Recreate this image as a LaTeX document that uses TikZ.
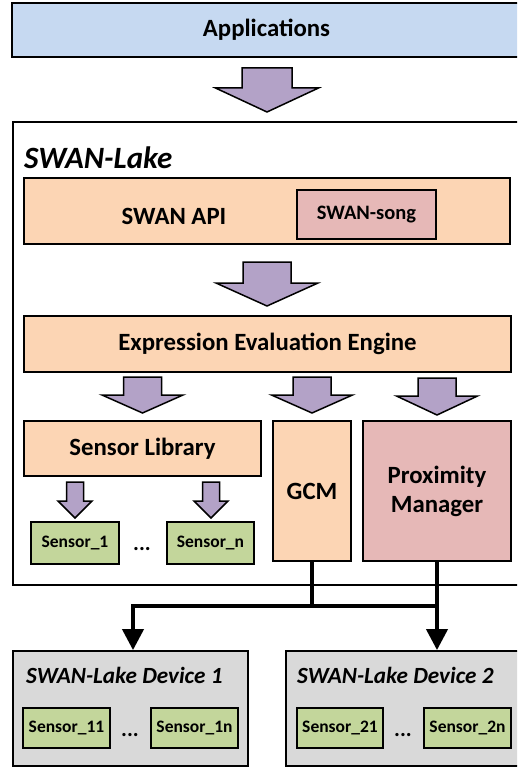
\documentclass[tikz,border=0pt]{standalone}
\usepackage{fontspec}
\setmainfont{Carlito}
\usetikzlibrary{arrows.meta}
\definecolor{appblue}{HTML}{C6D9F1}
\definecolor{lorange}{HTML}{FCD5B4}
\definecolor{lpink}{HTML}{E6B8B7}
\definecolor{lgreen}{HTML}{C3D69B}
\definecolor{lpurple}{HTML}{B3A2C7}
\definecolor{lgray}{HTML}{D9D9D9}
\newcommand\BlockArrow[6]{%
  \filldraw[barrow] (#1-#5,#2) -- (#1+#5,#2) -- (#1+#5,#3) -- (#1+#6,#3) -- (#1,#4) -- (#1-#6,#3) -- (#1-#5,#3) -- cycle;}
\begin{document}
\begin{tikzpicture}[x=1pt,y=-1pt,
  box/.style={draw=black, line width=1.8pt, rectangle, inner sep=0pt, font=\bfseries\fontsize{24.8}{29}\selectfont, align=center},
  sbox/.style={draw=black, line width=1.8pt, rectangle, inner sep=0pt, fill=lgreen, font=\bfseries\fontsize{17.5}{20}\selectfont, text height=12pt, text depth=3pt},
  ttl/.style={inner sep=0pt, anchor=west, font=\bfseries\itshape},
  dots/.style={inner sep=0pt, font=\bfseries\fontsize{22}{24}\selectfont},
  txt/.style={inner sep=0pt, font=\bfseries\fontsize{24.8}{29}\selectfont},
  barrow/.style={fill=lpurple, draw=black, line width=1.5pt, line join=miter},
  wire/.style={draw=black, line width=4pt, line join=miter},
  tip/.style={-{Triangle[width=21pt,length=21pt]}}
]
\useasboundingbox (0,0) rectangle (517,767);
\clip (0,0) rectangle (517,767);
\fill[white] (0,0) rectangle (517,767);

% Applications
\node[box, fill=appblue, line width=2pt, minimum width=509pt, minimum height=54pt] (apps) at (266.5,30) {Applications};

% SWAN-Lake container
\node[draw=black, line width=1.5pt, rectangle, inner sep=0pt, minimum width=508pt, minimum height=463pt] (lake) at (267,353.5) {};
\node[ttl, font=\bfseries\itshape\fontsize{31}{36}\selectfont] (laket) at (24,158) {SWAN-Lake};

% SWAN API
\node[box, fill=lorange, minimum width=486pt, minimum height=66pt] (api) at (267,211) {};
\node[txt] (apit) at (174,216) {SWAN API};
\node[box, fill=lpink, minimum width=139pt, minimum height=49pt, font=\bfseries\fontsize{20.5}{24}\selectfont] (song) at (366.5,214.5) {\raisebox{-1pt}{SWAN-song}};

% Expression Evaluation Engine
\node[box, fill=lorange, minimum width=487pt, minimum height=56pt] (eee) at (267.5,344) {Expression Evaluation Engine};

% Lower row
\node[box, fill=lorange, minimum width=237pt, minimum height=55pt] (slib) at (142.5,448.5) {Sensor Library};
\node[box, fill=lorange, minimum width=78pt, minimum height=140pt] (gcm) at (312,491) {GCM};
\node[box, fill=lpink, minimum width=148pt, minimum height=140pt] (prox) at (437,491) {Proximity\\Manager};

% Sensors
\node[sbox, minimum width=88pt, minimum height=42pt] (s1) at (75,543) {Sensor\_1};
\node[sbox, minimum width=87pt, minimum height=42pt] (sn) at (210.5,543) {Sensor\_n};
\node[dots] (d0) at (142,549) {...};

% Block arrows
\BlockArrow{267}{68}{88}{112}{25}{51.5}
\BlockArrow{267}{262}{283}{306}{24}{51}
\BlockArrow{142.5}{377}{395}{413}{19}{40.5}
\BlockArrow{312}{377}{395}{413}{19}{40.5}
\BlockArrow{437}{378}{396}{415}{19}{40.5}
\BlockArrow{75}{482}{501}{518}{8.5}{17}
\BlockArrow{211}{482}{501}{518}{8.5}{17}

% Devices
\node[draw=black, line width=1.8pt, fill=lgray, rectangle, inner sep=0pt, minimum width=235pt, minimum height=115pt] (dev1) at (130.5,708.5) {};
\node[draw=black, line width=1.8pt, fill=lgray, rectangle, inner sep=0pt, minimum width=235pt, minimum height=115pt] (dev2) at (403.5,708.5) {};
\node[ttl, font=\bfseries\itshape\fontsize{23.2}{27}\selectfont] (dev1t) at (26,675) {SWAN-Lake Device 1};
\node[ttl, font=\bfseries\itshape\fontsize{23.2}{27}\selectfont] (dev2t) at (297,675) {SWAN-Lake Device 2};

\node[sbox, minimum width=87pt, minimum height=40pt] (s11) at (66.5,728) {Sensor\_11};
\node[sbox, minimum width=87pt, minimum height=40pt] (s1n) at (194.5,728) {Sensor\_1n};
\node[dots] (d1) at (130,735) {...};
\node[sbox, minimum width=86pt, minimum height=40pt] (s21) at (340,728) {Sensor\_21};
\node[sbox, minimum width=87pt, minimum height=40pt] (s2n) at (467.5,728) {Sensor\_2n};
\node[dots] (d2) at (403,735) {...};

% Connectors
\coordinate (jl) at (133,606);
\coordinate (jr) at (437,606);
\draw[wire] (gcm.south) -- (gcm.south |- jl);
\draw[wire, tip] (prox.south) -- (prox.south |- dev2.north);
\draw[wire, tip] (jr) -- (jl) -- (jl |- dev1.north);
\end{tikzpicture}
\end{document}
